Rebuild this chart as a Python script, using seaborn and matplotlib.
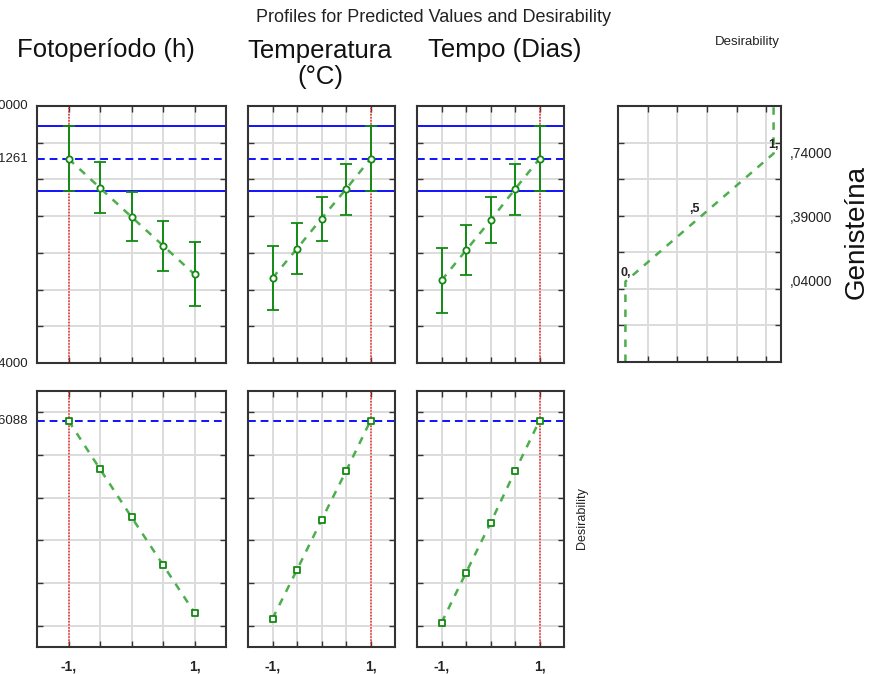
import numpy as np
import matplotlib
matplotlib.use("Agg")
import matplotlib.pyplot as plt
import seaborn as sns

# factor levels (coded)
levels = [-1, -0.5, 0, 0.5, 1]
factors = ["Fotoperíodo (h)", "Temperatura\n(°C)", "Tempo (Dias)"]
current = [-1, 1, 1]

# predicted Genisteína for each factor profile
pred_foto = [0.7126, 0.554, 0.396, 0.2395, 0.083]
pred_temp = [0.063, 0.223, 0.387, 0.547, 0.7126]
pred_tempo = [0.050, 0.214, 0.377, 0.547, 0.7126]

# half-width of the confidence bars
err_foto = [0.177, 0.139, 0.133, 0.136, 0.174]
err_temp = [0.177, 0.139, 0.120, 0.139, 0.177]
err_tempo = [0.177, 0.136, 0.125, 0.139, 0.177]

# desirability for each factor profile
des_foto = [0.96088, 0.734, 0.509, 0.285, 0.061]
des_temp = [0.033, 0.262, 0.495, 0.724, 0.96088]
des_tempo = [0.014, 0.248, 0.481, 0.724, 0.96088]

# current prediction and its interval
pred_now = 0.71261
ci_low = 0.536
ci_high = 0.889
des_now = 0.96088

# desirability function (Genisteína -> desirability)
des_fun_y = [-0.4, 0.04, 0.39, 0.74, 1.0]
des_fun_x = [0, 0, 0.5, 1, 1]
des_marks = ["0,", ",5", "1,"]
des_marks_y = [0.04, 0.39, 0.74]
des_labels = [",74000", ",39000", ",04000"]
des_labels_y = [0.74, 0.39, 0.04]

preds = [pred_foto, pred_temp, pred_tempo]
errs = [err_foto, err_temp, err_tempo]
dess = [des_foto, des_temp, des_tempo]

sns.set_style("white")
plt.rcParams["font.family"] = ["Liberation Sans", "DejaVu Sans"]

W, H = 876, 674
fig = plt.figure(figsize=(W / 100, H / 100), dpi=100)


def px_axes(x0, x1, y0, y1):
    return fig.add_axes([x0 / W, (H - y1) / H, (x1 - x0) / W, (y1 - y0) / H])


def style_ax(ax, xt, yt):
    ax.set_xticks(xt)
    ax.set_yticks(yt)
    ax.grid(True, color="#dcdcdc", linewidth=1.4)
    ax.set_axisbelow(True)
    ax.tick_params(direction="in", length=4, width=1, color="#333333",
                   top=True, right=True, bottom=True, left=True,
                   labelleft=False, labelbottom=False)
    for s in ax.spines.values():
        s.set_color("#333333")
        s.set_linewidth(1.5)


green = "#138a13"
light_green = "#4cae4c"
blue_dash = (0, (4, 2.5))
cols = [(37, 226), (248, 395), (417, 564)]
grid_top = [-0.2, 0, 0.2, 0.4, 0.6, 0.8]
grid_bot = [0, 0.2, 0.4, 0.6, 0.8, 1.0]

for i, (x0, x1) in enumerate(cols):
    # top row: predicted values
    ax = px_axes(x0, x1, 106, 363)
    style_ax(ax, levels, grid_top)
    ax.set_xlim(-1.5, 1.5)
    ax.set_ylim(-0.4, 1.0)
    ax.axhline(ci_high, color="#1010ff", lw=1.4)
    ax.axhline(ci_low, color="#1010ff", lw=1.4)
    ax.axhline(pred_now, color="#1010ff", lw=1.4, ls=blue_dash)
    ax.axvline(current[i], color="#ff2020", lw=1.1, ls=(0, (1, 1)))
    sns.lineplot(x=levels, y=preds[i], ax=ax, color=light_green,
                 linestyle=(0, (3, 3)), linewidth=1.8)
    ax.errorbar(levels, preds[i], yerr=errs[i], fmt="o", ms=4.5,
                mfc="white", mec=green, mew=1.3, ecolor=green,
                elinewidth=1.4, capsize=4, capthick=1.2, zorder=5)
    if i == 0:
        trans = ax.get_yaxis_transform()
        for yv, lab in [(1.0, "1,0000"), (pred_now, ",71261"), (-0.4, "-,4000")]:
            ax.text(-0.045, yv, lab, transform=trans, ha="right",
                    va="center", fontsize=9.5, color="#222222")

    # bottom row: desirability
    ax2 = px_axes(x0, x1, 391, 647)
    style_ax(ax2, levels, grid_bot)
    ax2.set_xlim(-1.5, 1.5)
    ax2.set_ylim(-0.1, 1.1)
    ax2.axhline(des_now, color="#1010ff", lw=1.4, ls=blue_dash)
    ax2.axvline(current[i], color="#ff2020", lw=1.1, ls=(0, (1, 1)))
    sns.lineplot(x=levels, y=dess[i], ax=ax2, color=light_green,
                 linestyle=(0, (3, 3)), linewidth=1.8)
    sns.scatterplot(x=levels, y=dess[i], ax=ax2, marker="s", s=22,
                    facecolor="white", edgecolor=green, linewidth=1.3,
                    zorder=5)
    ax2.set_xticks(levels)
    ax2.set_xticklabels(["-1,", "", "", "", "1,"])
    ax2.tick_params(labelbottom=True, pad=9, labelsize=10)
    for t in ax2.get_xticklabels():
        t.set_fontweight("bold")
        t.set_color("#222222")
    if i == 0:
        ax2.text(-0.045, des_now, ",96088", transform=ax2.get_yaxis_transform(),
                 ha="right", va="center", fontsize=9.5, color="#222222")

# desirability function panel
axd = px_axes(618, 781, 106, 362)
style_ax(axd, [0.15, 0.35, 0.55, 0.75, 0.95], grid_top)
axd.set_xlim(-0.05, 1.05)
axd.set_ylim(-0.4, 1.0)
sns.lineplot(x=des_fun_x, y=des_fun_y, ax=axd, sort=False, estimator=None,
             color=light_green, linestyle=(0, (3, 3)), linewidth=1.8)
for xv, yv, lab in zip([0, 0.5, 1], des_marks_y, des_marks):
    ha = "right" if lab == ",5" else "center"
    axd.text(xv, yv + 0.012, lab, ha=ha, va="bottom", fontsize=9,
             fontweight="bold", color="#222222")
for yv, lab in zip(des_labels_y, des_labels):
    axd.text(1.055, yv, lab, transform=axd.get_yaxis_transform(),
             ha="left", va="center", fontsize=10, color="#222222")

# titles and labels
fig.text(434 / W, 1 - 17 / H, "Profiles for Predicted Values and Desirability",
         ha="center", va="center", fontsize=13, color="#222222")
title_pos = [(106, 50), (320, 64), (505, 50)]
for (tx, ty), name in zip(title_pos, factors):
    fig.text(tx / W, 1 - ty / H, name, ha="center", va="center",
             fontsize=18.5, color="#111111", linespacing=1.15)
fig.text(747 / W, 1 - 42 / H, "Desirability", ha="center", va="center",
         fontsize=9.5, color="#222222")
fig.text(857 / W, 1 - 232 / H, "Genisteína", ha="center", va="center",
         rotation=90, fontsize=20, color="#111111")
fig.text(582 / W, 1 - 518 / H, "Desirability", ha="center", va="center",
         rotation=90, fontsize=9, color="#222222")

plt.savefig("out.png", dpi=100)
